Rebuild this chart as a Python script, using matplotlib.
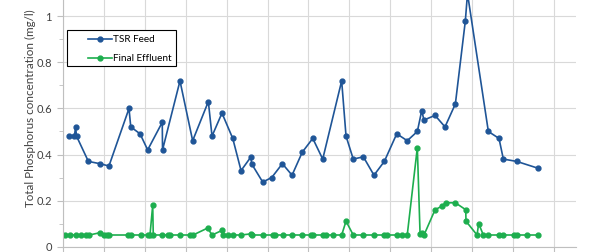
import matplotlib.pyplot as plt
from matplotlib.patches import Rectangle
from matplotlib.ticker import MultipleLocator

# days since start of sampling
feed_days = [4.6, 8.4, 9.2, 9.9, 18.6, 27.1, 33.7, 48.4, 49.7, 56.5, 62.1, 72.8, 73.0,
             85.8, 95.1, 106.6, 109.3, 116.6, 124.5, 130.6, 137.9, 138.3, 146.5, 153.1,
             160.9, 168.0, 175.5, 183.2, 190.5, 204.4, 207.6, 212.9, 220.3, 228.1, 235.7,
             244.8, 252.5, 259.9, 263.1, 264.8, 272.9, 280.2, 287.8, 295.1, 296.7, 312.0,
             319.8, 323.0, 332.8, 348.6]
feed_tp = [0.48, 0.48, 0.52, 0.48, 0.37, 0.36, 0.35, 0.60, 0.52, 0.49, 0.42, 0.54, 0.42,
           0.72, 0.46, 0.63, 0.48, 0.58, 0.47, 0.33, 0.39, 0.36, 0.28, 0.30,
           0.36, 0.31, 0.41, 0.47, 0.38, 0.72, 0.48, 0.38, 0.39, 0.31, 0.37,
           0.49, 0.46, 0.50, 0.59, 0.55, 0.57, 0.52, 0.62, 0.98, 1.10, 0.50,
           0.47, 0.38, 0.37, 0.34]

eff_days = [1.2, 5.1, 9.3, 13.2, 16.5, 19.3, 27.1, 30.4, 32.3, 34.0, 48.0, 49.7, 57.0,
            62.6, 63.8, 65.8, 66.2, 72.6, 76.7, 78.3, 85.8, 93.5, 95.4, 106.0, 109.4,
            116.6, 117.0, 121.2, 124.5, 130.6, 137.9, 138.6, 146.7, 153.7, 155.5, 161.0,
            168.0, 175.5, 181.9, 183.4, 190.7, 192.9, 198.3, 204.4, 207.6, 212.9, 220.3,
            228.1, 235.7, 237.5, 244.8, 248.4, 252.5, 259.9, 261.9, 263.3, 264.8, 272.9,
            277.8, 280.6, 287.8, 295.4, 295.6, 303.7, 304.9, 308.3, 312.0, 319.8, 322.4,
            330.8, 332.8, 340.1, 348.6]
eff_tp = [0.05, 0.05, 0.05, 0.05, 0.05, 0.05, 0.06, 0.05, 0.05, 0.05, 0.05, 0.05, 0.05,
          0.05, 0.05, 0.18, 0.05, 0.05, 0.05, 0.05, 0.05, 0.05, 0.05, 0.08, 0.05,
          0.07, 0.05, 0.05, 0.05, 0.05, 0.055, 0.05, 0.05, 0.05, 0.05, 0.05,
          0.05, 0.05, 0.05, 0.05, 0.05, 0.05, 0.05, 0.05, 0.11, 0.05, 0.05,
          0.05, 0.05, 0.05, 0.05, 0.05, 0.05, 0.43, 0.055, 0.06, 0.05, 0.16,
          0.175, 0.19, 0.19, 0.16, 0.11, 0.05, 0.10, 0.05, 0.05, 0.05, 0.05,
          0.05, 0.05, 0.05, 0.05]

plt.rcParams['font.family'] = ['Lato', 'DejaVu Sans']

fig = plt.figure(figsize=(5.9, 2.52), dpi=100)
ax = fig.add_axes([0.1068, 0.0218, 0.8695, 0.9782])

ax.plot(feed_days, feed_tp, color='#1F5597', lw=1.2, marker='o', ms=3.5, label='TSR Feed')
ax.plot(eff_days, eff_tp, color='#1DAE4E', lw=1.2, marker='o', ms=3.5, label='Final Effluent')

ax.set_xlim(0, 376.3)
ax.set_ylim(0, 1.0717)
ax.xaxis.set_major_locator(MultipleLocator(30))
ax.yaxis.set_minor_locator(MultipleLocator(0.1))
ax.set_yticks([0, 0.2, 0.4, 0.6, 0.8, 1.0])
ax.set_yticklabels(['0', '0.2', '0.4', '0.6', '0.8', '1'])
ax.set_xticklabels([])
ax.grid(True, color='#d9d9d9', lw=0.8)
ax.set_axisbelow(True)
for s in ['top', 'right']:
    ax.spines[s].set_visible(False)
for s in ['left', 'bottom']:
    ax.spines[s].set_color('#bfbfbf')
    ax.spines[s].set_linewidth(0.8)
ax.tick_params(axis='y', which='both', color='#bfbfbf', labelsize=8, labelcolor='#404040', pad=4)
ax.tick_params(axis='y', which='major', length=4)
ax.tick_params(axis='y', which='minor', length=3)
ax.tick_params(axis='x', color='#bfbfbf', length=5)

ax.set_ylabel('Total Phosphorus concentration (mg/l)', fontsize=8.4, color='#404040')
ax.yaxis.set_label_coords(-0.052, 0.56)

# legend box drawn separately so the padding matches the original
ax.add_patch(Rectangle((0.0078, 0.732), 0.2125, 0.146, transform=ax.transAxes,
                       facecolor='white', edgecolor='black', lw=0.8, zorder=4))
leg = ax.legend(loc='upper left', bbox_to_anchor=(0.0487, 0.858), fontsize=7.2, frameon=False,
                handlelength=2.4, borderpad=0, labelspacing=1.0, handletextpad=0.15,
                borderaxespad=0)
leg.set_zorder(5)

fig.savefig('out.png', dpi=100)
